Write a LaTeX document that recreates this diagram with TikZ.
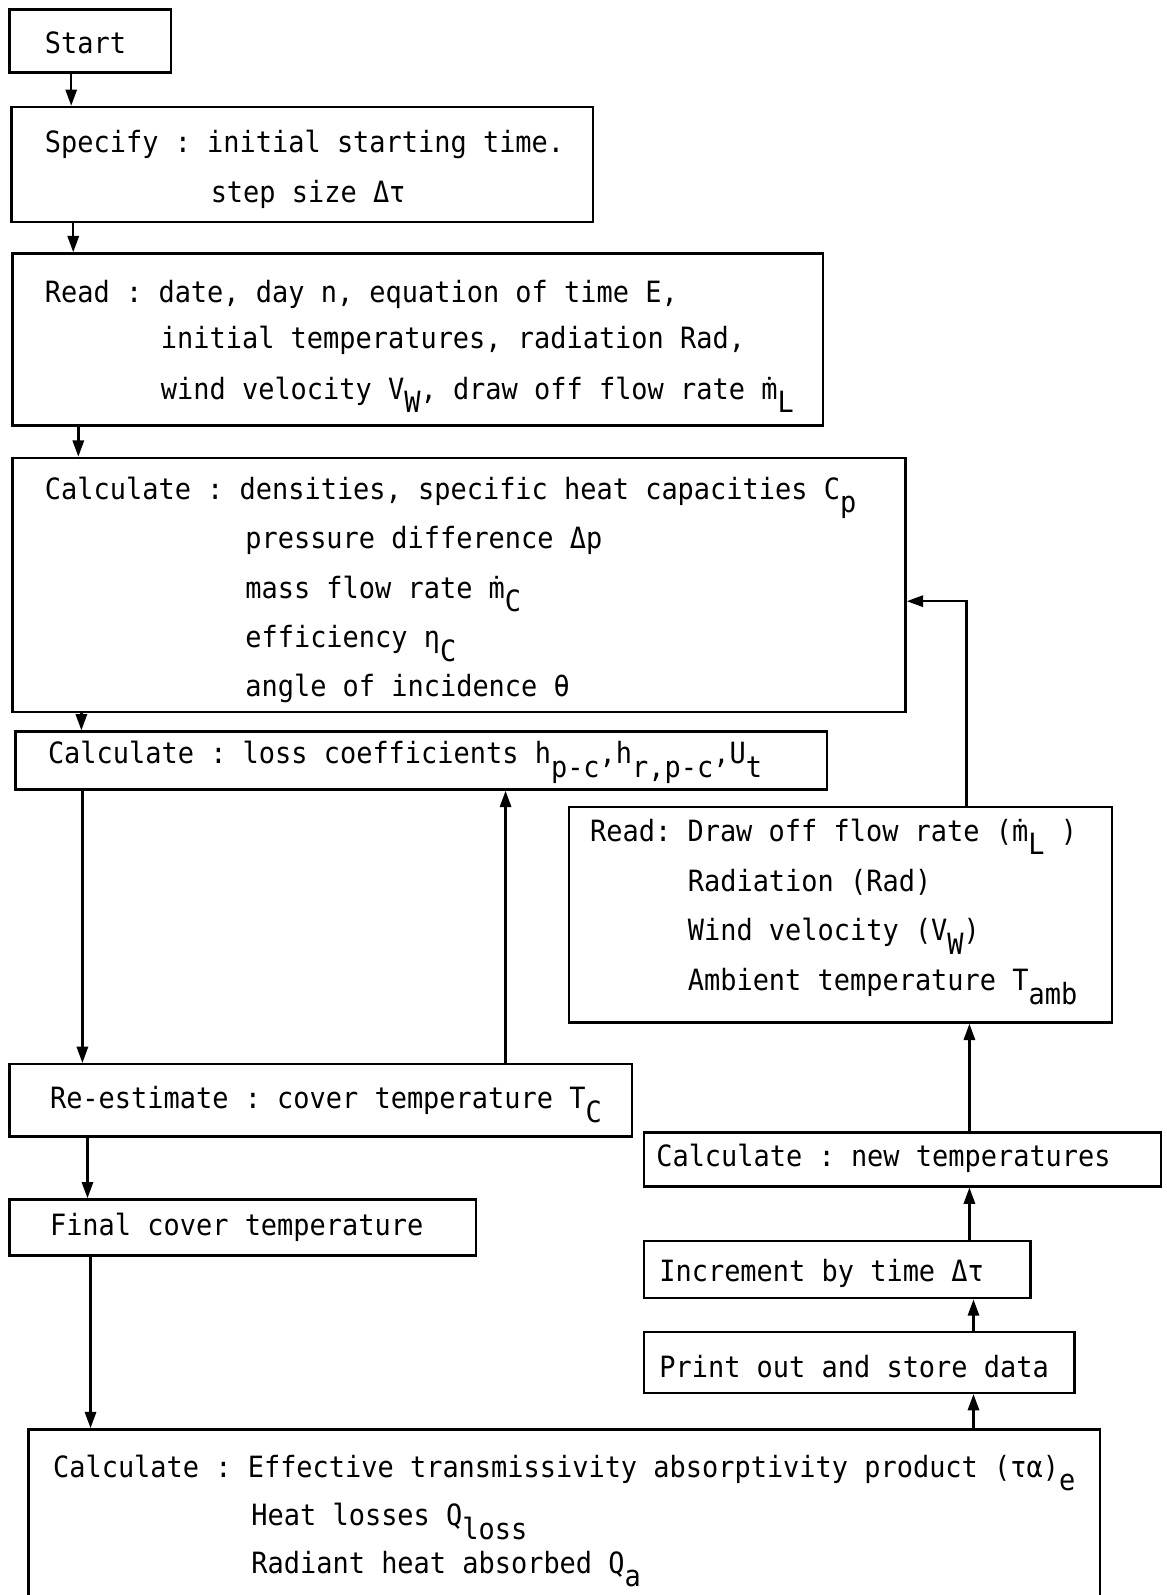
\documentclass[tikz,border=0pt]{standalone}
\usepackage{fontspec}
\setmonofont[FakeStretch=0.92]{DejaVu Sans Mono}
\usetikzlibrary{arrows.meta}
\newcommand\lowsub[1]{\raisebox{-13pt}{#1}}
\begin{document}
\begin{tikzpicture}[x=1pt,y=-1pt,
  box/.style={draw,line width=2.4pt,rectangle,inner sep=0pt,anchor=north west},
  txt/.style={anchor=base west,inner sep=0pt,font=\ttfamily\fontsize{28.8}{32}\selectfont},
  arr/.style={line width=2.4pt,-{Triangle[width=11pt,length=16pt]}}]
\useasboundingbox (0,0) rectangle (1147,1568);
% boxes
\node[box,minimum width=159pt,minimum height=62pt] (start) at (8,8) {};
\node[box,minimum width=572pt,minimum height=113pt] (spec) at (10,104) {};
\node[box,minimum width=797pt,minimum height=169pt] (read) at (11,248) {};
\node[box,minimum width=878pt,minimum height=250pt] (calc) at (11,449) {};
\node[box,minimum width=798pt,minimum height=57pt] (loss) at (14,718) {};
\node[box,minimum width=612pt,minimum height=71pt] (rees) at (8,1045) {};
\node[box,minimum width=459pt,minimum height=55pt] (final) at (8,1178) {};
\node[box,minimum width=1053pt,minimum height=300pt] (bot) at (27,1404) {};
\node[box,minimum width=534pt,minimum height=212pt] (read2) at (558,792) {};
\node[box,minimum width=508pt,minimum height=53pt] (newt) at (632,1112) {};
\node[box,minimum width=380pt,minimum height=56pt] (incr) at (632,1219) {};
\node[box,minimum width=423pt,minimum height=60pt] (print) at (632,1308) {};
% texts
\node[txt] (t1) at (44,53) {Start};
\node[txt] (t2a) at (44,150) {Specify : initial starting time.};
\node[txt] (t2b) at (207,199) {step size Δτ};
\node[txt] (t3a) at (44,297) {Read : date, day n, equation of time E,};
\node[txt] (t3b) at (158,343) {initial temperatures, radiation Rad,};
\node[txt] (t3c) at (158,393) {wind velocity V\lowsub{W}, draw off flow rate \.{m}\lowsub{L}};
\node[txt] (t4a) at (44,491) {Calculate : densities, specific heat capacities C\lowsub{p}};
\node[txt] (t4b) at (241,539) {pressure difference Δp};
\node[txt] (t4c) at (241,588) {mass flow rate \.{m}\lowsub{C}};
\node[txt] (t4d) at (241,637) {efficiency η\lowsub{C}};
\node[txt] (t4e) at (241,685) {angle of incidence θ};
\node[txt] (t5) at (47,751) {Calculate : loss coefficients h\lowsub{p-c},h\lowsub{r,p-c},U\lowsub{t}};
\node[txt] (t6) at (49,1090) {Re-estimate : cover temperature T\lowsub{C}};
\node[txt] (t7) at (49,1215) {Final cover temperature};
\node[txt] (t8a) at (52,1452) {Calculate : Effective transmissivity absorptivity product (τα)\lowsub{e}};
\node[txt] (t8b) at (247,1500) {Heat losses Q\lowsub{loss}};
\node[txt] (t8c) at (247,1547) {Radiant heat absorbed Q\lowsub{a}};
\node[txt] (t9a) at (580,827) {Read: Draw off flow rate (\.{m}\lowsub{L} )};
\node[txt] (t9b) at (676,876) {Radiation (Rad)};
\node[txt] (t9c) at (676,925) {Wind velocity (V\lowsub{W})};
\node[txt] (t9d) at (676,974) {Ambient temperature T\lowsub{amb}};
\node[txt] (t10) at (645,1147) {Calculate : new temperatures};
\node[txt] (t11) at (648,1260) {Increment by time Δτ};
\node[txt] (t12) at (648,1354) {Print out and store data};
% connectors
\draw[arr] ([xshift=62pt]start.south west) -- ([xshift=60pt]spec.north west);
\draw[arr] ([xshift=62pt]spec.south west) -- ([xshift=61pt]read.north west);
\draw[arr] ([xshift=66pt]read.south west) -- ([xshift=66pt]calc.north west);
\draw[arr] ([xshift=69pt]calc.south west) -- ([xshift=66pt]loss.north west);
\draw[arr] ([xshift=67pt]loss.south west) -- ([xshift=73pt]rees.north west);
\draw[arr] ([xshift=489pt]rees.north west) -- ([xshift=483pt]loss.south west);
\draw[arr] ([xshift=78pt]rees.south west) -- ([xshift=78pt]final.north west);
\draw[arr] ([xshift=81pt]final.south west) -- ([xshift=62pt]bot.north west);
\draw[arr] ([xshift=930pt]bot.north west) -- ([xshift=325pt]print.south west);
\draw[arr] ([xshift=325pt]print.north west) -- ([xshift=325pt]incr.south west);
\draw[arr] ([xshift=321pt]incr.north west) -- ([xshift=321pt]newt.south west);
\draw[arr] ([xshift=321pt]newt.north west) -- ([xshift=395pt]read2.south west);
\draw[arr] ([xshift=392pt]read2.north west) |- ([yshift=-142pt]calc.north east);
\end{tikzpicture}
\end{document}
